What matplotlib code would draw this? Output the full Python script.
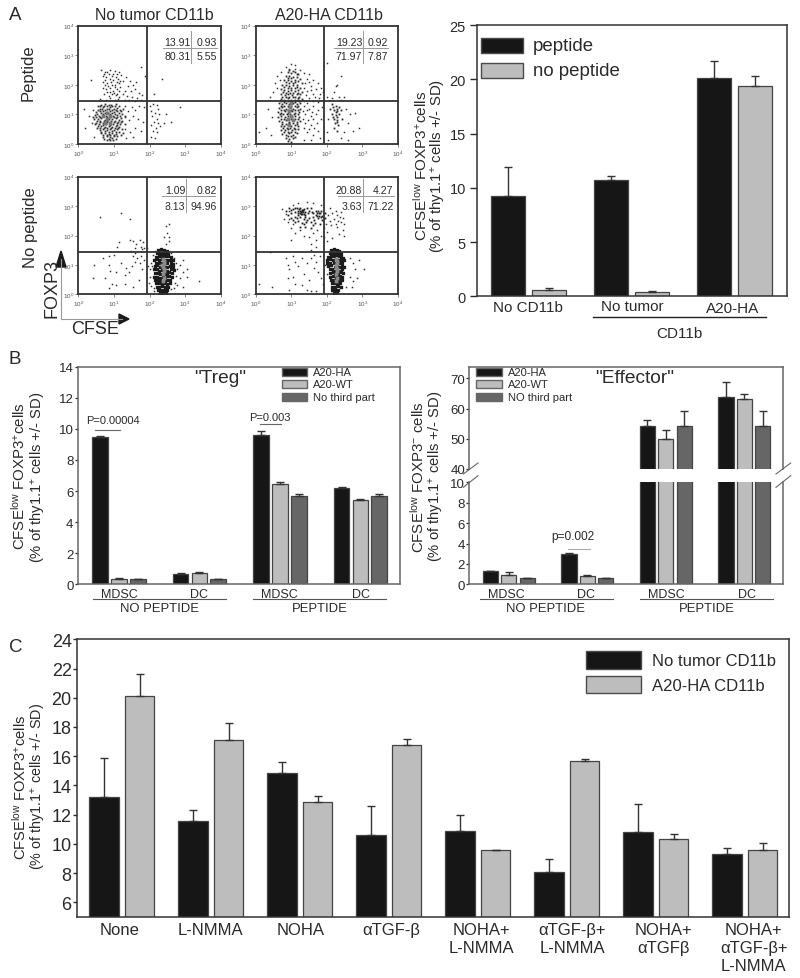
"""Multi-panel CFSE / FOXP3 figure: flow dot plots (A) and bar charts (A, B, C)."""
import matplotlib

matplotlib.use("Agg")

import matplotlib.pyplot as plt
import numpy as np
from matplotlib.lines import Line2D
from matplotlib.patches import Polygon, Rectangle

plt.rcParams["font.family"] = ["Liberation Sans", "DejaVu Sans"]
plt.rcParams["mathtext.fontset"] = "custom"
plt.rcParams["mathtext.rm"] = "Liberation Sans"
plt.rcParams["mathtext.default"] = "regular"

W, H = 800, 979

BLACK = "#161616"
LIGHT = "#bdbdbd"
DARK = "#666666"
FRAME = "#4a4a4a"
INK = "#2a2a2a"

# Dot plots, values are decades (log10 CFSE, log10 FOXP3), read by eye
NT_PEP_DOTS = [
    (.65,2.5),(.75,2.45),(.9,2.5),(1.02,2.48),(1.13,2.42),(1.75,2.6),(.7,2.3),(.78,2.25),(.85,2.35),(.95,2.3),
    (1.05,2.28),(1.12,2.2),(1.2,2.32),(1.35,2.25),(1.45,2.12),(1.88,2.3),(.7,2.1),(.8,2.05),(.92,2.1),(1.02,2.0),
    (1.15,2.05),(1.25,2.12),(1.4,1.95),(1.55,1.98),(1.62,2.1),(.35,2.15),(.68,1.9),(.78,1.85),(.88,1.9),(.98,1.8),
    (1.08,1.85),(1.18,1.92),(1.32,1.8),(1.48,1.8),(1.6,1.85),(1.7,1.72),(.72,1.68),(.85,1.62),(.95,1.7),(1.05,1.65),
    (1.15,1.6),(1.25,1.7),(1.38,1.62),(1.5,1.6),(1.65,1.55),(1.8,1.65),(.6,1.52),(.78,1.5),(.9,1.55),(1.02,1.5),
    (1.12,1.52),(1.3,1.48),(1.42,1.5),(1.58,1.47),(1.75,1.5),(2.35,2.2),(2.12,1.7),
    (.72,2.38),(.82,2.42),(.98,2.38),(1.08,2.36),(.75,2.15),(.88,2.2),(.98,2.15),(1.08,2.1),(1.18,2.14),(.74,1.98),
    (.84,1.96),(.94,1.98),(1.04,1.92),(1.14,1.78),(.8,1.75),(.9,1.76),(1.0,1.72),(1.1,1.7),
    (.15,1.2),(.3,.95),(.2,.55),(.45,.25),(.38,.7),(.42,1.15),(1.3,1.3),(1.4,1.1),(1.5,1.25),(1.6,1.15),(1.7,1.3),
    (1.85,1.25),(1.3,.9),(1.42,.8),(1.55,.95),(1.68,.85),(1.82,.75),(1.3,.5),(1.45,.4),(1.6,.55),(1.35,.2),(1.55,.25),
    (1.75,.45),(2.02,1.3),(2.1,1.35),(2.2,1.32),(2.25,1.2),(2.05,1.1),(2.15,1.05),(2.28,1.0),(2.08,.95),(2.2,.85),
    (2.12,.75),(2.25,.7),(2.05,.65),(2.18,.55),(2.3,.6),(2.1,.45),(2.22,.4),(2.15,.2),(2.05,.22),(2.42,.7),(2.6,.75),
    (2.85,1.25),(2.45,1.0),
]
NT_PEP_CORE = [
    (.55,1.3),(.65,1.32),(.75,1.36),(.85,1.33),(.95,1.3),(1.05,1.34),(.6,1.2),(.7,1.24),(.8,1.2),(.9,1.25),(1.0,1.2),
    (1.1,1.22),(.5,1.08),(.6,1.1),(.7,1.12),(.8,1.08),(.9,1.12),(1.0,1.08),(1.1,1.1),(1.2,1.12),(.48,.98),(.58,.96),
    (.68,1.0),(.78,.95),(.88,1.0),(.98,.95),(1.08,.98),(1.18,.95),(.45,.85),(.55,.84),(.65,.88),(.75,.82),(.85,.86),
    (.95,.83),(1.05,.87),(1.15,.82),(.5,.72),(.6,.74),(.7,.7),(.8,.74),(.9,.7),(1.0,.74),(1.1,.7),(1.2,.73),(.55,.6),
    (.65,.62),(.75,.58),(.85,.62),(.95,.58),(1.05,.62),(1.15,.58),(.6,.48),(.7,.5),(.8,.46),(.9,.5),(1.0,.46),(1.1,.5),
    (.65,.36),(.75,.38),(.85,.34),(.95,.38),(1.05,.34),(.7,.25),(.8,.26),(.9,.22),(1.0,.26),(.8,.13),(.9,.12),(.98,.15),
    (.6,1.28),(.72,1.3),(.82,1.27),(.92,1.32),(1.02,1.27),(1.14,1.3),(.55,1.16),(.66,1.17),(.76,1.14),(.86,1.17),(.96,1.15),
    (1.06,1.16),(1.16,1.16),(1.26,1.18),(.53,1.03),(.64,1.05),(.74,1.05),(.84,1.04),(.94,1.05),(1.04,1.03),(1.14,1.04),
    (1.24,1.02),(.4,.9),(.5,.91),(.6,.91),(.7,.94),(.8,.9),(.9,.9),(1.0,.91),(1.1,.92),(1.2,.88),(1.3,.95),(.52,.78),(.62,.79),
    (.72,.77),(.82,.79),(.92,.77),(1.02,.79),(1.12,.76),(1.22,.78),(.46,.66),(.58,.67),(.68,.65),(.78,.67),(.88,.65),(.98,.67),
    (1.08,.65),(1.18,.66),(1.3,.68),(.52,.54),(.62,.55),(.72,.53),(.82,.55),(.92,.53),(1.02,.55),(1.12,.53),(1.22,.52),
    (.65,.42),(.75,.43),(.85,.41),(.95,.43),(1.05,.41),(1.15,.42),(1.25,.38),(.7,.3),(.8,.31),(.9,.29),(1.0,.31),(1.1,.28),
    (1.2,.3),(.72,.18),(.85,.18),(.95,.19),(1.05,.17),
]
NT_PEP_GRAY = [(.7,.95),(.8,.85),(.9,.95),(.75,.7),(.88,.72),(.8,1.05)]

HA_PEP_DOTS = [
    (1.0,2.72),(1.1,2.68),(.85,2.6),(.95,2.55),(1.1,2.55),(1.25,2.5),(.7,2.45),(1.35,2.4),(1.5,2.35),(.6,2.3),(.68,2.15),
    (1.45,2.2),(1.6,2.15),(1.75,2.05),(.55,2.05),(.6,1.9),(1.55,1.95),(1.7,1.85),(1.85,1.9),(1.45,1.8),(1.6,1.7),
    (1.8,1.7),(1.9,1.75),(.5,1.75),(.4,1.6),(1.5,1.55),(1.68,1.6),(1.78,1.55),(2.2,1.75),(2.3,2.0),(2.35,1.6),(2.5,1.6),
    (2.02,1.6),(2.15,1.55),(2.4,1.5),(2.0,2.75),(2.4,2.3),(2.25,1.95),(.35,1.2),(.45,.9),(.3,.55),(.42,.3),(.1,.4),
    (1.35,1.3),(1.5,1.2),(1.62,1.3),(1.75,1.15),(1.88,1.25),(1.4,1.0),(1.55,.95),(1.7,1.0),(1.85,.85),(1.4,.7),
    (1.55,.65),(1.72,.7),(1.45,.4),(1.6,.3),(1.75,.45),(1.35,.15),(1.55,.12),(1.8,.2),(2.55,1.2),(2.65,1.0),(2.8,1.05),
    (2.6,.7),(2.9,.55),(2.5,.4),(2.4,.2),(2.6,.15),(2.75,.45),(2.05,.85),(2.0,.4),(2.05,.15),
    (1.4,2.05),(1.5,2.1),(1.35,1.9),(1.42,1.65),(1.56,1.82),(1.35,1.45),(1.45,1.4),(1.62,1.45),(1.75,1.42),(1.32,1.1),
    (1.45,1.15),(1.58,1.08),(1.32,.85),(1.48,.82),(1.62,.85),(1.35,.55),(1.5,.52),(1.65,.55),
]
HA_PEP_CORE = [
    (.9,2.45),(1.0,2.4),(1.1,2.42),(1.2,2.35),(.85,2.3),(.95,2.3),(1.05,2.25),(1.15,2.25),(1.25,2.2),(.8,2.15),(.9,2.15),
    (1.0,2.12),(1.1,2.1),(1.3,2.05),(.75,2.0),(.85,2.0),(.95,1.95),(1.05,1.98),(1.15,1.92),(1.25,1.9),(.7,1.85),(.8,1.82),
    (.9,1.8),(1.0,1.82),(1.1,1.78),(1.2,1.72),(1.3,1.75),(.72,1.68),(.82,1.66),(.92,1.68),(1.02,1.65),(1.12,1.6),(1.22,1.6),
    (.7,1.52),(.8,1.5),(.9,1.55),(1.0,1.5),(1.1,1.5),(1.2,1.5),(1.3,1.52),(.65,1.38),(.75,1.35),(.85,1.38),(.95,1.35),
    (1.05,1.38),(1.15,1.35),(1.25,1.38),(.65,1.22),(.75,1.24),(.85,1.2),(.95,1.24),(1.05,1.2),(1.15,1.24),(1.25,1.2),
    (.62,1.08),(.72,1.06),(.82,1.1),(.92,1.06),(1.02,1.1),(1.12,1.06),(1.22,1.08),(.62,.92),(.72,.95),(.82,.9),(.92,.94),
    (1.02,.9),(1.12,.94),(1.22,.9),(.65,.78),(.75,.75),(.85,.8),(.95,.76),(1.05,.8),(1.15,.76),(1.25,.78),(.7,.62),(.8,.6),
    (.9,.64),(1.0,.6),(1.1,.64),(1.2,.6),(.72,.48),(.82,.46),(.92,.5),(1.02,.46),(1.12,.5),(.75,.34),(.85,.32),(.95,.36),
    (1.05,.32),(1.15,.36),(.85,.2),(.95,.18),(1.05,.2),(.9,.1),(1.0,.08),
    (2.15,1.35),(2.25,1.3),(2.35,1.25),(2.1,1.2),(2.2,1.15),(2.3,1.1),(2.4,1.15),(2.15,1.02),(2.25,.98),(2.35,1.0),
    (2.2,.85),(2.3,.82),(2.42,.85),(2.22,.7),(2.32,.65),(2.2,.55),(2.28,.45),
    (.95,2.5),(1.05,2.48),(1.15,2.38),(.9,2.22),(1.0,2.24),(1.1,2.18),(1.2,2.12),(.85,2.08),(.95,2.05),(1.05,2.06),(1.15,2.0),
    (.8,1.92),(.9,1.9),(1.0,1.9),(1.1,1.88),(1.2,1.82),(.76,1.75),(.86,1.74),(.96,1.74),(1.06,1.72),(1.16,1.7),(1.26,1.68),
    (.75,1.6),(.85,1.6),(.95,1.6),(1.05,1.58),(1.18,1.56),(.7,1.44),(.8,1.43),(.9,1.45),(1.0,1.43),(1.1,1.43),(1.22,1.44),
    (.7,1.3),(.8,1.3),(.9,1.3),(1.0,1.3),(1.1,1.3),(1.2,1.3),(.7,1.14),(.8,1.15),(.9,1.15),(1.0,1.15),(1.1,1.15),(1.2,1.15),
    (.68,1.0),(.78,1.0),(.88,1.0),(.98,1.0),(1.08,1.0),(1.18,1.0),(.7,.85),(.8,.85),(.9,.85),(1.0,.85),(1.1,.85),(1.2,.85),
    (.75,.68),(.85,.68),(.95,.7),(1.05,.7),(1.15,.68),(.78,.54),(.88,.55),(.98,.55),(1.08,.55),(1.18,.52),(.8,.4),(.9,.42),
    (1.0,.4),(1.1,.42),(.9,.26),(1.0,.26),(1.1,.25),(2.18,1.25),(2.28,1.2),(2.25,1.08),(2.18,.92),(2.3,.92),(2.28,.75),
]
HA_PEP_GRAY = [(.95,1.1),(1.0,.95),(.9,.85),(1.05,.8),(.98,1.25),(.95,.65),(1.0,1.4)]

NT_NOPEP_DOTS = [
    (.6,2.62),(1.2,2.78),(1.45,2.55),(2.45,3.0),(2.45,2.32),(2.55,2.38),(2.5,2.1),(2.42,1.95),(2.55,1.95),(2.45,1.72),
    (2.55,1.8),(1.15,1.78),(1.1,1.62),(1.45,1.85),(1.55,1.82),(1.72,1.85),(1.82,1.78),(1.62,1.7),(1.75,1.62),(1.85,1.58),
    (1.92,1.58),(1.8,1.55),(1.6,1.58),(1.48,1.48),(1.6,1.4),(.7,1.25),(.85,1.3),(1.0,1.32),(.45,1.0),(.85,1.0),
    (.9,.8),(1.05,.75),(1.2,1.05),(1.35,.9),(1.42,.75),(1.55,1.3),(1.65,1.25),(1.75,1.3),(1.6,1.1),(1.72,1.05),(1.85,1.15),
    (1.5,.95),(1.8,.85),(1.95,.95),(1.3,.65),(1.7,.5),(.75,.55),(.95,.35),(1.05,.3),(1.3,.35),(.4,.55),(.85,.2),
    (1.55,.25),(2.78,.3),(3.4,.45),(2.95,.75),(3.05,.85),(3.05,.6),(2.85,.55),(2.95,.25),(2.85,1.0),(2.95,1.15),
    (2.0,.6),(1.98,.4),(2.02,.85),(2.05,1.05),(2.08,.95),(2.1,1.32),(2.7,1.25),(2.75,1.05),(2.78,.85),(2.75,.62),(2.72,.4),
    (2.6,.18),(2.7,.2),(2.12,.2),(2.05,.28),(2.12,.1),(2.6,1.4),(2.15,1.48),
]
NT_NOPEP_COLUMN = [
    (2.25,1.5),(2.32,1.55),(2.4,1.5),(2.48,1.48),(2.2,1.4),(2.28,1.42),(2.36,1.42),(2.44,1.4),(2.52,1.38),(2.18,1.28),
    (2.26,1.3),(2.52,1.3),(2.6,1.28),(2.12,1.18),(2.2,1.2),(2.58,1.18),(2.66,1.15),(2.18,1.05),(2.26,1.08),(2.6,1.05),
    (2.66,1.02),(2.15,.95),(2.22,.98),(2.58,.95),(2.65,.92),(2.14,.85),(2.22,.85),(2.6,.85),(2.68,.82),(2.15,.72),
    (2.22,.72),(2.56,.75),(2.64,.72),(2.14,.6),(2.22,.6),(2.55,.62),(2.63,.6),(2.16,.5),(2.24,.48),
    (2.5,.5),(2.58,.48),(2.18,.38),(2.26,.38),(2.34,.36),(2.42,.38),(2.5,.36),(2.58,.38),(2.2,.26),
    (2.28,.25),(2.36,.28),(2.44,.25),(2.52,.26),(2.25,.15),(2.33,.14),(2.41,.16),(2.49,.14),(2.3,.06),(2.38,.05),(2.46,.06),
    (2.3,1.3),(2.38,1.3),(2.46,1.3),(2.28,1.18),(2.36,1.2),(2.44,1.18),(2.5,1.18),(2.28,1.05),(2.36,1.08),(2.44,1.05),(2.5,1.05),
    (2.3,.92),(2.38,.95),(2.44,.92),(2.5,.92),(2.28,.8),(2.36,.82),(2.44,.8),(2.5,.8),(2.3,.68),(2.38,.7),(2.44,.68),(2.48,.68),
    (2.3,.55),(2.38,.58),(2.44,.55),(2.5,.62),(2.3,.44),(2.38,.46),(2.44,.46),
]
NT_NOPEP_GRAY = [(2.38,1.2),(2.4,1.05),(2.38,.92),(2.4,.8),(2.38,.68),(2.4,.55),(2.38,.45),(2.42,1.12),(2.36,1.0),(2.42,.86)]

HA_NOPEP_DOTS = [
    (.75,2.9),(.85,2.72),(.8,2.55),(.9,2.45),(.95,2.85),(1.05,3.05),(1.2,3.12),(1.45,3.15),(1.6,3.1),(1.85,3.05),(2.1,2.95),
    (2.25,2.85),(2.4,2.8),(2.45,2.6),(2.4,2.45),(2.5,2.4),(2.3,2.3),(2.45,2.2),(2.35,2.05),(2.5,2.0),(1.0,2.25),(1.1,2.1),
    (1.25,2.2),(1.35,2.0),(1.5,1.95),(1.62,2.1),(1.7,1.85),(1.85,2.0),(2.0,1.8),(2.15,1.9),(1.0,1.85),(1.55,1.7),(1.7,1.6),
    (1.55,1.5),(1.65,1.35),(.4,1.45),
    (.85,1.25),(.9,1.0),(.95,.85),(1.05,1.3),(1.1,1.1),(1.2,.95),(1.3,1.25),(1.35,.7),(1.45,1.05),(1.5,.5),(1.55,1.25),
    (1.65,.9),(1.7,1.1),(1.75,.75),(1.8,1.3),(.9,.55),(1.05,.6),(1.1,.35),(1.3,.3),(1.45,.15),(1.55,.1),(1.7,.12),
    (.1,.35),(.45,.25),(.95,.15),(1.95,1.0),(2.0,.7),(2.65,1.25),(2.75,1.05),(2.8,.85),(2.65,.6),(2.75,.45),(2.55,.25),
    (2.7,.25),(2.85,.55),(3.05,.85),(2.9,1.15),(1.85,.55),(1.9,.35),
    (2.05,2.7),(2.15,2.75),(2.3,2.7),(2.38,2.62),(2.08,2.5),(2.2,2.55),(2.32,2.5),(2.12,2.35),(2.25,2.4),(1.98,2.4),(.95,2.55),
    (1.05,2.4),(1.92,2.25),(1.72,2.2),(2.02,2.12),(1.92,1.95),
]
HA_NOPEP_CLOUD = [
    (.85,2.85),(.95,2.95),(1.05,2.9),(1.15,2.95),(1.25,2.95),(1.35,2.9),(1.45,2.95),(1.55,2.92),(1.7,2.85),(1.85,2.85),
    (1.95,2.75),(.9,2.7),(1.0,2.75),(1.1,2.8),(1.2,2.85),(1.28,2.8),(1.38,2.8),(1.48,2.75),(1.58,2.8),(1.7,2.7),(1.78,2.75),
    (1.86,2.68),(1.95,2.6),(1.0,2.6),(1.1,2.62),(1.2,2.7),(1.3,2.72),(1.4,2.62),(1.5,2.6),(1.62,2.62),(1.76,2.58),(1.88,2.52),
    (1.1,2.45),(1.2,2.5),(1.3,2.42),(1.42,2.45),(1.55,2.45),(1.68,2.42),(1.8,2.4),(1.25,2.3),(1.4,2.28),(1.55,2.25),
    (1.25,2.78),(1.32,2.86),(1.28,2.72),(1.36,2.74),(1.76,2.82),(1.82,2.76),(1.72,2.65),
    (1.0,2.88),(1.1,2.92),(1.2,2.78),(1.22,2.9),(1.3,2.88),(1.4,2.7),(1.5,2.85),(1.62,2.75),(1.65,2.52),(1.15,2.58),(1.35,2.55),
    (1.45,2.52),(1.25,2.62),(1.05,2.52),(1.35,2.38),(1.6,2.35),(1.3,2.82),(1.24,2.84),(1.34,2.8),(1.78,2.68),(1.84,2.62),(1.72,2.78),
]
HA_NOPEP_COLUMN = [
    (2.12,1.5),(2.2,1.55),(2.28,1.5),(2.36,1.48),(2.08,1.4),(2.16,1.42),(2.24,1.42),(2.32,1.4),(2.4,1.38),(2.05,1.28),
    (2.13,1.3),(2.4,1.28),(2.45,1.25),(2.02,1.18),(2.1,1.2),(2.42,1.18),(2.48,1.15),(2.02,1.05),(2.1,1.08),(2.44,1.05),
    (2.05,.95),(2.12,.98),(2.44,.95),(2.5,.92),(2.08,.85),(2.15,.85),(2.42,.85),(2.1,.72),(2.18,.75),(2.4,.75),(2.46,.72),
    (2.1,.6),(2.18,.62),(2.38,.62),(2.44,.6),(2.12,.5),(2.2,.48),(2.36,.5),(2.42,.48),(2.14,.38),(2.22,.38),(2.3,.36),
    (2.38,.38),(2.16,.26),(2.24,.25),(2.32,.28),(2.4,.25),(2.16,.15),(2.24,.14),(2.32,.16),(2.2,.06),(2.28,.05),
    (2.2,1.3),(2.28,1.32),(2.34,1.3),(2.18,1.18),(2.26,1.2),(2.34,1.18),(2.2,1.05),(2.28,1.08),(2.34,1.05),(2.22,.92),(2.28,.95),
    (2.34,.92),(2.24,.8),(2.3,.82),(2.34,.8),(2.24,.68),(2.28,.7),(2.32,.68),(2.26,.55),(2.3,.58),(2.34,.55),(2.28,.44),(2.32,.46),
]
HA_NOPEP_GRAY = [(2.27,1.2),(2.28,1.05),(2.27,.92),(2.28,.8),(2.27,.68),(2.28,.55),(2.26,.45),(2.3,1.12),(2.25,1.0),(2.3,.86)]

FLOW_STATS = [
    [["13.91", "0.93"], ["80.31", "5.55"]],
    [["19.23", "0.92"], ["71.97", "7.87"]],
    [["1.09", "0.82"], ["3.13", "94.96"]],
    [["20.88", "4.27"], ["3.63", "71.22"]],
]

# Panel A bars
A_GROUPS = ["No CD11b", "No tumor", "A20-HA"]
A_PEPTIDE = [9.2, 10.7, 20.1]
A_PEPTIDE_SD = [2.7, 0.35, 1.55]
A_NO_PEPTIDE = [0.6, 0.4, 19.4]
A_NO_PEPTIDE_SD = [0.15, 0.12, 0.9]

# Panel B
B_GROUPS = ["MDSC", "DC", "MDSC", "DC"]
TREG_HA = [9.5, 0.68, 9.6, 6.2]
TREG_HA_SD = [0.05, 0.03, 0.28, 0.06]
TREG_WT = [0.35, 0.72, 6.45, 5.4]
TREG_WT_SD = [0.05, 0.06, 0.12, 0.06]
TREG_NONE = [0.32, 0.32, 5.65, 5.65]
TREG_NONE_SD = [0.03, 0.03, 0.15, 0.15]

EFF_HA = [1.3, 3.0, 54.3, 63.8]
EFF_HA_SD = [0.05, 0.1, 2.0, 5.0]
EFF_WT = [0.95, 0.85, 50.0, 63.3]
EFF_WT_SD = [0.25, 0.1, 2.8, 1.6]
EFF_NONE = [0.6, 0.6, 54.2, 54.2]
EFF_NONE_SD = [0.03, 0.03, 5.0, 5.0]

# Panel C
C_LABELS = ["None", "L-NMMA", "NOHA", "αTGF-β", "NOHA+\nL-NMMA", "αTGF-β+\nL-NMMA", "NOHA+\nαTGFβ", "NOHA+\nαTGF-β+\nL-NMMA"]
C_NO_TUMOR = [13.2, 11.55, 14.85, 10.6, 10.9, 8.1, 10.8, 9.3]
C_NO_TUMOR_SD = [2.7, 0.8, 0.75, 2.0, 1.1, 0.85, 1.9, 0.45]
C_A20 = [20.1, 17.1, 12.9, 16.75, 9.55, 15.65, 10.35, 9.6]
C_A20_SD = [1.55, 1.2, 0.4, 0.45, 0.05, 0.15, 0.35, 0.45]


def axes_px(fig, left, top, right, bottom):
    return fig.add_axes([left / W, 1 - bottom / H, (right - left) / W, (bottom - top) / H])


def text_px(fig, x, y, s, ha="center", va="center", color=INK, **kwargs):
    fig.text(x / W, 1 - y / H, s, ha=ha, va=va, color=color, **kwargs)


def line_px(fig, x0, y0, x1, y1, color=FRAME, lw=1.0):
    fig.add_artist(Line2D([x0 / W, x1 / W], [1 - y0 / H, 1 - y1 / H], color=color, lw=lw))


def patch_px(fig, left, top, right, bottom, color, edge=FRAME):
    fig.add_artist(Rectangle((left / W, 1 - bottom / H), (right - left) / W, (bottom - top) / H,
                             transform=fig.transFigure, facecolor=color, edgecolor=edge, lw=1.0))


def style_frame(ax, color=FRAME, lw=1.1):
    for spine in ax.spines.values():
        spine.set_color(color)
        spine.set_linewidth(lw)


def draw_bars(ax, x, values, sd, color, width):
    zeros = np.zeros(len(values))
    ax.bar(x, values, width=width, color=color, edgecolor="#444444", linewidth=0.9,
           yerr=[zeros, sd], ecolor="#333333", capsize=3.2,
           error_kw={"elinewidth": 1.0, "capthick": 1.0})


def draw_flow(fig, box, layers, stats, divider, hline, stat_y, right_edge):
    left, top, right, bottom = box
    ax = axes_px(fig, left, top, right, bottom)
    for pts, size, color in layers:
        xs = [10 ** p[0] for p in pts]
        ys = [10 ** p[1] for p in pts]
        dots = ax.scatter(xs, ys, s=size, color=color, marker="s", linewidths=0, zorder=2)
        dots.set_snap(False)  # keep the specks soft instead of rounding up to whole pixels
    ax.set_xscale("log")
    ax.set_yscale("log")
    ax.set_xlim(1, 1e4)
    ax.set_ylim(1, 1e4)
    ax.axvline(10 ** 1.92, color="#333333", lw=1.3, zorder=3)
    ax.axhline(10 ** 1.44, color="#333333", lw=1.3, zorder=3)
    ax.tick_params(which="major", labelsize=4.5, length=2, width=0.5, pad=1.2, colors="#555555")
    ax.tick_params(which="minor", length=1, width=0.3, colors="#777777")
    style_frame(ax, "#333333", 1.3)

    # small statistics table in the upper right quadrant
    line_px(fig, divider, stat_y[0] - 10.6, divider, stat_y[1] + 6, color="#999999", lw=0.7)
    line_px(fig, hline[0], stat_y[0] + 6.4, hline[1], stat_y[0] + 6.4, color="#999999", lw=0.7)
    for row, y in zip(stats, stat_y):
        text_px(fig, divider - 0.5, y, row[0], ha="right", fontsize=7.6)
        text_px(fig, right_edge, y, row[1], ha="right", fontsize=7.6)


def panel_a_flow(fig):
    speck, mid, solid, gray = 1.2, 1.7, 5.5, 7.0
    draw_flow(fig, (78.3, 26.7, 220.7, 145),
              [(NT_PEP_DOTS, speck, "#333333"), (NT_PEP_CORE, mid, "#333333"), (NT_PEP_GRAY, gray, "#777777")],
              FLOW_STATS[0], 191, (163, 217), (42.5, 57.5), 217)
    draw_flow(fig, (255.7, 26.7, 397.7, 145),
              [(HA_PEP_DOTS, speck, "#333333"), (HA_PEP_CORE, mid, "#2a2a2a"), (HA_PEP_GRAY, gray, "#7a7a7a")],
              FLOW_STATS[1], 362.7, (334, 387.5), (42.5, 57.5), 387.5)
    draw_flow(fig, (78.3, 177.7, 220.7, 295.3),
              [(NT_NOPEP_DOTS, speck, "#333333"), (NT_NOPEP_COLUMN, solid, "#1c1c1c"), (NT_NOPEP_GRAY, gray, "#8a8a8a")],
              FLOW_STATS[2], 185.7, (162, 215), (191, 207), 217)
    draw_flow(fig, (255.7, 177.7, 397.7, 295.3),
              [(HA_NOPEP_DOTS, speck, "#333333"), (HA_NOPEP_CLOUD, mid, "#1c1c1c"), (HA_NOPEP_COLUMN, solid, "#1c1c1c"),
               (HA_NOPEP_GRAY, gray, "#8a8a8a")],
              FLOW_STATS[3], 362.7, (338, 393.5), (191, 207), 393.5)

    text_px(fig, 15, 15, "A", fontsize=13.5)
    text_px(fig, 154, 15, "No tumor CD11b", fontsize=11.5)
    text_px(fig, 329, 15, "A20-HA CD11b", fontsize=11.5)
    text_px(fig, 28, 73, "Peptide", fontsize=12, rotation=90)
    text_px(fig, 30, 228, "No peptide", fontsize=12, rotation=90)

    # FOXP3 / CFSE arrows
    line_px(fig, 61, 320, 61, 260, color="#999999", lw=0.8)
    line_px(fig, 61, 320, 122, 320, color="#999999", lw=0.8)
    fig.add_artist(Polygon([[56 / W, 1 - 268 / H], [66 / W, 1 - 268 / H], [61 / W, 1 - 252 / H]],
                           transform=fig.transFigure, color="#1a1a1a"))
    fig.add_artist(Polygon([[119 / W, 1 - 315 / H], [119 / W, 1 - 325 / H], [129 / W, 1 - 320 / H]],
                           transform=fig.transFigure, color="#1a1a1a"))
    text_px(fig, 52, 288, "FOXP3", fontsize=13, rotation=90)
    text_px(fig, 95, 329, "CFSE", fontsize=13)


def panel_a_bars(fig):
    ax = axes_px(fig, 476.7, 26, 786.7, 297.3)
    x = np.arange(len(A_GROUPS))
    draw_bars(ax, x - 0.2, A_PEPTIDE, A_PEPTIDE_SD, BLACK, 0.327)
    draw_bars(ax, x + 0.2, A_NO_PEPTIDE, A_NO_PEPTIDE_SD, LIGHT, 0.327)
    ax.set_xlim(-0.5, 2.505)
    ax.set_ylim(0, 25)
    ax.set_xticks([])
    ax.set_yticks([0, 5, 10, 15, 20, 25])
    ax.tick_params(axis="y", labelsize=10.5, length=4.8, width=1, pad=3, colors=INK)
    style_frame(ax, "#333333")

    patch_px(fig, 480.7, 39.3, 522.7, 54, BLACK)
    patch_px(fig, 480.7, 64.3, 522.7, 79.3, LIGHT)
    text_px(fig, 533, 46.5, "peptide", ha="left", fontsize=13.4)
    text_px(fig, 533, 71.5, "no peptide", ha="left", fontsize=13.4)

    for cx, cy, label in zip([527.7, 632, 733], [308, 307, 309], A_GROUPS):
        text_px(fig, cx, cy, label, fontsize=11)
    line_px(fig, 593, 317.7, 766, 317.7, color="#222222", lw=1.0)
    text_px(fig, 679, 334, "CD11b", fontsize=11)

    text_px(fig, 421, 166, r"CFSE$^{low}$ FOXP3$^{+}$cells", fontsize=11, rotation=90)
    text_px(fig, 438, 166, r"(% of thy1.1$^{+}$ cells +/- SD)", fontsize=10.8, rotation=90)


def b_group_labels(fig, xs, line_spans, header_xs):
    for cx, label in zip(xs, B_GROUPS):
        text_px(fig, cx, 594.7, label, fontsize=9)
    for x0, x1 in line_spans:
        line_px(fig, x0, 600, x1, 600, color="#555555", lw=0.8)
    text_px(fig, header_xs[0], 609.5, "NO PEPTIDE", fontsize=9.4)
    text_px(fig, header_xs[1], 609.5, "PEPTIDE", fontsize=9.4)


def b_legend(fig, left, right, text_x, labels):
    for (top, bottom), color, label, ty in zip(
        [(369, 377.3), (381, 389.3), (393.7, 402)], [BLACK, LIGHT, DARK], labels, [373.3, 385, 397.7]
    ):
        patch_px(fig, left, top, right, bottom, color, edge="#666666")
        text_px(fig, text_x, ty, label, ha="left", fontsize=8)


def panel_b_treg(fig):
    ax = axes_px(fig, 77.7, 367.7, 400, 585.3)
    x = np.arange(len(B_GROUPS))
    draw_bars(ax, x - 0.234, TREG_HA, TREG_HA_SD, BLACK, 0.195)
    draw_bars(ax, x, TREG_WT, TREG_WT_SD, LIGHT, 0.195)
    draw_bars(ax, x + 0.234, TREG_NONE, TREG_NONE_SD, DARK, 0.195)
    ax.set_xlim(-0.514, 3.493)
    ax.set_ylim(0, 14)
    ax.set_xticks([])
    ax.set_yticks(range(0, 15, 2))
    ax.tick_params(axis="y", labelsize=9.5, length=2.2, width=0.9, pad=0.8, colors=INK)
    style_frame(ax, "#666666")

    text_px(fig, 15, 360, "B", fontsize=13.5)
    text_px(fig, 220, 379, '"Treg"', fontsize=13.8)
    b_legend(fig, 281.7, 306.7, 312.7, ["A20-HA", "A20-WT", "No third part"])
    text_px(fig, 112.7, 421, "P=0.00004", fontsize=8)
    line_px(fig, 95, 431, 120, 431, color="#666666", lw=0.8)
    text_px(fig, 270, 417.7, "P=0.003", fontsize=8)
    line_px(fig, 260, 425, 280.7, 425, color="#666666", lw=0.8)
    b_group_labels(fig, [119, 199, 279, 360.7], [(93.3, 226), (253, 386)], [159, 320])

    text_px(fig, 19, 476, r"CFSE$^{low}$ FOXP3$^{+}$cells", fontsize=10.8, rotation=90)
    text_px(fig, 38, 477, r"(% of thy1.1$^{+}$ cells +/- SD)", fontsize=10.6, rotation=90)


def panel_b_effector(fig):
    top_ax = axes_px(fig, 469.3, 367.7, 783.3, 470)
    low_ax = axes_px(fig, 469.3, 483.3, 783.3, 585.3)
    x = np.arange(len(B_GROUPS))
    for ax in (top_ax, low_ax):
        draw_bars(ax, x - 0.2335, EFF_HA, EFF_HA_SD, BLACK, 0.193)
        draw_bars(ax, x, EFF_WT, EFF_WT_SD, LIGHT, 0.193)
        draw_bars(ax, x + 0.2335, EFF_NONE, EFF_NONE_SD, DARK, 0.193)
        ax.set_xlim(-0.503, 3.497)
        ax.set_xticks([])
        ax.tick_params(axis="y", labelsize=9.5, length=2.2, width=0.9, pad=0.8, colors=INK)
        style_frame(ax, "#666666")
    top_ax.set_ylim(40, 73.9)
    top_ax.set_yticks([40, 50, 60, 70])
    top_ax.spines["bottom"].set_visible(False)
    low_ax.set_ylim(0, 10)
    low_ax.set_yticks(range(0, 11, 2))
    low_ax.spines["top"].set_visible(False)

    # axis break marks on both sides
    for x0 in (463.3, 776):
        line_px(fig, x0, 475, x0 + 14.7, 464, color="#666666", lw=0.8)
        line_px(fig, x0, 488.3, x0 + 14.7, 476.7, color="#666666", lw=0.8)

    text_px(fig, 635, 379, '"Effector"', fontsize=13.8)
    b_legend(fig, 476.3, 501.7, 507.7, ["A20-HA", "A20-WT", "NO third part"])
    text_px(fig, 573, 537, "p=0.002", fontsize=8.6)
    line_px(fig, 568, 549.7, 590, 549.7, color="#aaaaaa", lw=0.8)
    b_group_labels(fig, [506, 586, 666.7, 747], [(480, 612.7), (640, 772.7)], [546, 706.7])

    text_px(fig, 418, 476.7, r"CFSE$^{low}$ FOXP3$^{-}$ cells", fontsize=10.8, rotation=90)
    text_px(fig, 437, 476.7, r"(% of thy1.1$^{+}$ cells +/- SD)", fontsize=10.6, rotation=90)


def panel_c(fig):
    ax = axes_px(fig, 77, 640.3, 789, 917.7)
    x = np.arange(len(C_LABELS))
    draw_bars(ax, x - 0.2017, C_NO_TUMOR, C_NO_TUMOR_SD, BLACK, 0.3285)
    draw_bars(ax, x + 0.2017, C_A20, C_A20_SD, LIGHT, 0.3285)
    ax.set_xlim(-0.504, 7.496)
    ax.set_ylim(5.02, 24)
    ax.set_xticks([])
    ax.set_yticks(range(6, 25, 2))
    ax.tick_params(axis="y", labelsize=13, length=3, width=1, pad=0.8, colors=INK)
    style_frame(ax, "#333333")

    text_px(fig, 16, 647, "C", fontsize=13.5)
    patch_px(fig, 586, 652.3, 640.5, 669.7, BLACK)
    patch_px(fig, 586, 677.3, 640.5, 694.3, LIGHT)
    text_px(fig, 652, 661.7, "No tumor CD11b", ha="left", fontsize=12)
    text_px(fig, 652, 686.7, "A20-HA CD11b", ha="left", fontsize=12)

    for i, label in enumerate(C_LABELS):
        fig.text((119.5 + i * 90.6) / W, 1 - 923 / H, label, ha="center", va="top",
                 fontsize=12, color=INK, linespacing=1.25)

    text_px(fig, 20, 787, r"CFSE$^{low}$ FOXP3$^{+}$cells", fontsize=10.6, rotation=90)
    text_px(fig, 38.5, 787, r"(% of thy1.1$^{+}$ cells +/- SD)", fontsize=10.4, rotation=90)


def main():
    fig = plt.figure(figsize=(W / 100, H / 100), dpi=100, facecolor="white")
    panel_a_flow(fig)
    panel_a_bars(fig)
    panel_b_treg(fig)
    panel_b_effector(fig)
    panel_c(fig)
    fig.savefig("out.png", dpi=100)
    plt.close(fig)


if __name__ == "__main__":
    main()
